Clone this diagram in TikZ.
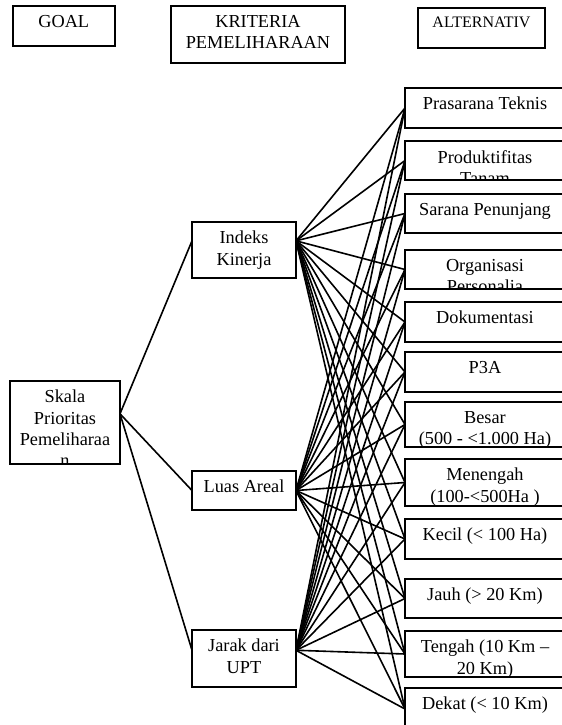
\documentclass[tikz,border=0pt]{standalone}
\usepackage{fontspec}
\setmainfont{Liberation Serif}
\newcommand{\mainfs}{\fontsize{9.15}{10.6}\selectfont}
\newcommand{\altfs}{\fontsize{8}{9.6}\selectfont}
\tikzset{
  tbox/.style={draw, line width=1pt, anchor=north west, inner sep=0pt, outer sep=0pt,
    path picture={\node [anchor=north, inner sep=0pt, minimum width=0pt, minimum height=0pt,
      align=center, font=\mainfs] at ([yshift=-4.6pt]path picture bounding box.north) {#1};}},
  link/.style={line width=0.8pt}
}
\begin{document}
\begin{tikzpicture}[x=0.5pt, y=-0.5pt]
                    \useasboundingbox (0,0) rectangle (562,725);
                    \clip (0,0) rectangle (562,725);

                    % Marking header boxes
                    \node [tbox={GOAL}, minimum width=51.25pt, minimum height=20pt] (hgoal) at (12.5,6) {};%
                    \node [tbox={KRITERIA\\PEMELIHARAAN}, minimum width=87pt, minimum height=28.5pt] (hkrit) at (171,6) {};%
                    \node [tbox={\altfs ALTERNATIV}, minimum width=63.5pt, minimum height=20pt] (halt) at (418,8) {};%

                    % Marking goal box
                    \node [tbox={Skala\\Prioritas\\Pemeliharaa\\n}, minimum width=55pt, minimum height=41.5pt] (skala) at (10,381) {};%

                    % Marking criteria boxes
                    \node [tbox={Indeks\\Kinerja}, minimum width=52pt, minimum height=28pt] (ik) at (192,222) {};%
                    \node [tbox={Luas Areal}, minimum width=52pt, minimum height=19.5pt] (la) at (192,471) {};%
                    \node [tbox={Jarak dari\\UPT}, minimum width=52pt, minimum height=28.5pt] (jd) at (192,630) {};%

                    % Marking alternative boxes
                    \node [tbox={Prasarana Teknis}, minimum width=80pt, minimum height=20pt] (pt) at (405,88) {};%
                    \node [tbox={Produktifitas\\Tanam}, minimum width=80pt, minimum height=19.5pt] (pd) at (405,141) {};%
                    \node [tbox={Sarana Penunjang}, minimum width=80pt, minimum height=19.5pt] (sp) at (405,194) {};%
                    \node [tbox={Organisasi\\Personalia}, minimum width=80pt, minimum height=19.5pt] (op) at (405,250) {};%
                    \node [tbox={Dokumentasi}, minimum width=80pt, minimum height=20pt] (dk) at (405,302) {};%
                    \node [tbox={P3A}, minimum width=80pt, minimum height=20pt] (pa) at (405,352) {};%
                    \node [tbox={Besar\\(500 - <1.000 Ha)}, minimum width=80pt, minimum height=22.5pt] (bs) at (405,402) {};%
                    \node [tbox={Menengah\\(100-<500Ha )}, minimum width=80pt, minimum height=23.5pt] (mn) at (405,459) {};%
                    \node [tbox={Kecil (< 100 Ha)}, minimum width=80pt, minimum height=20pt] (kc) at (405,519) {};%
                    \node [tbox={Jauh (> 20 Km)}, minimum width=80pt, minimum height=19.5pt] (jh) at (405,579) {};%
                    \node [tbox={Tengah (10 Km --\\20 Km)}, minimum width=80pt, minimum height=23pt] (tg) at (405,631) {};%
                    \node [tbox={Dekat (< 10 Km)}, minimum width=80pt, minimum height=21pt] (dt) at (405,688) {};%

                    % Drawing lines from goal
                    \draw [link] (skala.9) -- (ik.170);%
                    \draw [link] (skala.9) -- (la.west);%
                    \draw [link] (skala.9) -- (jd.171);%

                    % Drawing lines from Indeks Kinerja
                    \draw [link] (ik.10) -- (pt.west);%
                    \draw [link] (ik.10) -- (pd.west);%
                    \draw [link] (ik.10) -- (sp.west);%
                    \draw [link] (ik.10) -- (op.west);%
                    \draw [link] (ik.10) -- (dk.west);%
                    \draw [link] (ik.10) -- (pa.west);%
                    \draw [link] (ik.10) -- (bs.west);%
                    \draw [link] (ik.10) -- (mn.west);%
                    \draw [link] (ik.10) -- (kc.west);%
                    \draw [link] (ik.10) -- (jh.west);%
                    \draw [link] (ik.10) -- (tg.west);%
                    \draw [link] (ik.10) -- (dt.west);%

                    % Drawing lines from Luas Areal
                    \draw [link] (la.east) -- (pt.west);%
                    \draw [link] (la.east) -- (pd.west);%
                    \draw [link] (la.east) -- (sp.west);%
                    \draw [link] (la.east) -- (op.west);%
                    \draw [link] (la.east) -- (dk.west);%
                    \draw [link] (la.east) -- (pa.west);%
                    \draw [link] (la.east) -- (bs.west);%
                    \draw [link] (la.east) -- (mn.west);%
                    \draw [link] (la.east) -- (kc.west);%
                    \draw [link] (la.east) -- (jh.west);%
                    \draw [link] (la.east) -- (tg.west);%
                    \draw [link] (la.east) -- (dt.west);%

                    % Drawing lines from Jarak dari UPT
                    \draw [link] (jd.9) -- (pt.west);%
                    \draw [link] (jd.9) -- (pd.west);%
                    \draw [link] (jd.9) -- (sp.west);%
                    \draw [link] (jd.9) -- (op.west);%
                    \draw [link] (jd.9) -- (dk.west);%
                    \draw [link] (jd.9) -- (pa.west);%
                    \draw [link] (jd.9) -- (bs.west);%
                    \draw [link] (jd.9) -- (mn.west);%
                    \draw [link] (jd.9) -- (kc.west);%
                    \draw [link] (jd.9) -- (jh.west);%
                    \draw [link] (jd.9) -- (tg.west);%
                    \draw [link] (jd.9) -- (dt.west);%
\end{tikzpicture}
\end{document}
